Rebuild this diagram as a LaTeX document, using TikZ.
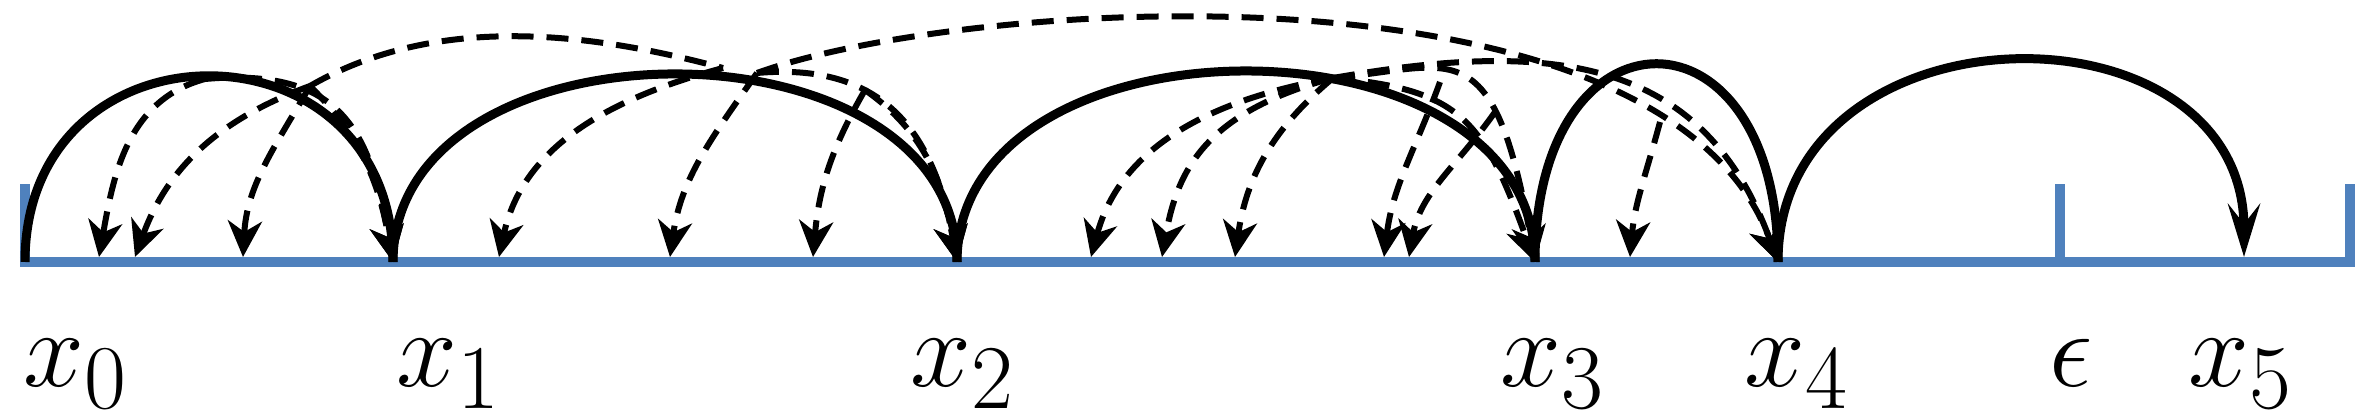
\documentclass[tikz,border=0pt]{standalone}
\usetikzlibrary{arrows.meta}
\definecolor{axisblue}{RGB}{79,129,189}

\begin{document}
\begin{tikzpicture}[
  base/.style={axisblue,line width=0.1cm},
  hop/.style={black,line width=0.09cm},
  link/.style={black,line width=0.06cm,dash pattern=on 0.22cm off 0.13cm},
  probe/.style={link,-{Stealth[length=0.36cm,width=0.34cm,inset=0.11cm]}},
  lab/.style={font=\Huge,scale=1.25,anchor=base,inner sep=0pt}]
\useasboundingbox (0,-1.54) rectangle (23.69,2.62);
\def\h{0.78}

% points on the line
\coordinate (al) at (0.20,0);
\coordinate (ar) at (23.55,0);
\coordinate (x0) at (0.25,0);
\coordinate (x1) at (3.93,0);
\coordinate (x2) at (9.57,0);
\coordinate (x3) at (15.35,0);
\coordinate (x4) at (17.78,0);
\coordinate (x5) at (22.44,0.05);
\coordinate (ep) at (20.60,0);
\coordinate (rt) at (23.50,0);

% landing points
\coordinate (a1) at (0.99,0.05);
\coordinate (a2) at (1.35,0.05);
\coordinate (a3) at (2.43,0.05);
\coordinate (b1) at (4.99,0.05);
\coordinate (b2) at (6.70,0.05);
\coordinate (b3) at (8.13,0.05);
\coordinate (c1) at (10.91,0.05);
\coordinate (c2) at (11.62,0.05);
\coordinate (c3) at (12.35,0.05);
\coordinate (c4) at (13.84,0.05);
\coordinate (c5) at (14.09,0.05);
\coordinate (d1) at (16.30,0.05);

% start points on the hops
\coordinate (s0a) at (2.05,1.83);
\coordinate (s0b) at (3.10,1.76);
\coordinate (s1a) at (7.23,1.94);
\coordinate (s1b) at (7.57,1.89);
\coordinate (s1c) at (8.65,1.72);
\coordinate (s2a) at (13.33,1.84);
\coordinate (j1) at (14.40,1.80);
\coordinate (j2) at (14.95,1.50);
\coordinate (j3) at (16.60,1.40);

% axis
\draw[base] (al) -- (ar);
\draw[base] ([yshift=-0.05cm]x0) -- ++(0,\h+0.05);
\draw[base] ([yshift=-0.05cm]ep) -- ++(0,\h+0.05);
\draw[base] ([yshift=-0.05cm]rt) -- ++(0,\h+0.05);

% hops
\draw[hop] (x0) to[out=90,in=90,looseness=1.73] (x1);
\draw[hop] (x1) to[out=90,in=90,looseness=1.14] (x2);
\draw[hop] (x2) to[out=90,in=90,looseness=1.13] (x3);
\draw[hop] (x3) to[out=90,in=90,looseness=2.79] (x4);
\draw[hop,-{Stealth[length=0.53cm,width=0.32cm,inset=0.2cm]}] (x4) to[out=90,in=90,looseness=1.44] (x5);

% probes from hop 0
\draw[probe] (s0a) to[out=195,in=80] (a1);
\draw[probe] (s0a) to[out=5,in=100,out distance=1.4cm,in distance=1.3cm] (x1);
\draw[probe] (s0b) to[out=200,in=70] (a2);
\draw[probe] (s0b) to[out=240,in=87] (a3);
\draw[probe] (s0b) to[out=-45,in=100] (x1);
\draw[link] (s0b) to[out=30,in=165,out distance=1.5cm,in distance=1.3cm] (s1a);

% probes from hop 1
\draw[probe] (s1a) to[out=195,in=78] (b1);
\draw[probe] (s1b) to[out=235,in=82] (b2);
\draw[probe] (s1b) to[out=5,in=100,out distance=1.2cm,in distance=1.4cm] (x2);
\draw[probe] (s1b) to[out=20,in=110,out distance=2.2cm,in distance=3.3cm] (x4);
\draw[probe] (s1c) to[out=240,in=85] (b3);
\draw[probe] (s1c) to[out=-35,in=100] (x2);

% probes from hop 2
\draw[probe] (s2a) to[out=190,in=75] (c1);
\draw[probe] (s2a) to[out=195,in=80,out distance=1.3cm,in distance=0.9cm] (c2);
\draw[probe] (s2a) to[out=220,in=82] (c3);
\draw[probe] (s2a) to[out=10,in=110,distance=2.2cm] (x4);
\draw[probe] (s2a) to[out=-5,in=110,out distance=1.3cm,in distance=1.5cm] (x3);
\draw[probe] (s2a) to[out=5,in=100,out distance=1.2cm,in distance=2.4cm] (x3);
\draw[probe] (j1) to[out=250,in=83] (c4);
\draw[probe] (j2) to[out=235,in=80] (c5);

% probe from hop 3
\draw[probe] (j3) to[out=255,in=85] (d1);

% labels
\node[lab] (l0) at (0.76,-1.25) {$x_0$};
\node[lab] (l1) at (4.49,-1.25) {$x_1$};
\node[lab] (l2) at (9.63,-1.25) {$x_2$};
\node[lab] (l3) at (15.53,-1.25) {$x_3$};
\node[lab] (l4) at (17.97,-1.25) {$x_4$};
\node[lab] (le) at (20.71,-1.25) {$\epsilon$};
\node[lab] (l5) at (22.41,-1.25) {$x_5$};
\end{tikzpicture}
\end{document}
